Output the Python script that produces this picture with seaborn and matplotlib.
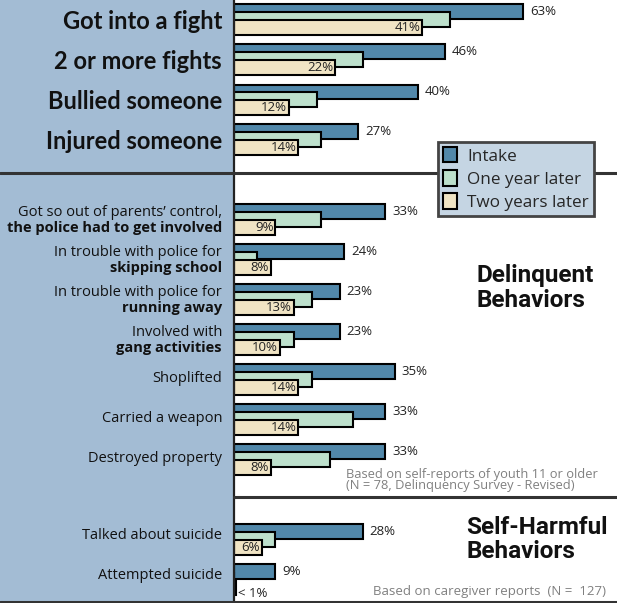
import matplotlib
matplotlib.use("Agg")
import matplotlib.pyplot as plt
import seaborn as sns
import pandas as pd
from matplotlib.patches import Rectangle, Patch
from matplotlib.lines import Line2D
from matplotlib.transforms import blended_transform_factory
from matplotlib import font_manager

# ---------------- data ----------------
series_names = ["Intake", "One year later", "Two years later"]

fight_labels = ["Got into a fight", "2 or more fights", "Bullied someone", "Injured someone"]
fight_intake = [63, 46, 40, 27]
fight_one = [47, 28, 18, 19]
fight_two = [41, 22, 12, 14]

delinq_line1 = ["Got so out of parents\u2019 control,", "In trouble with police for",
                "In trouble with police for", "Involved with",
                "Shoplifted", "Carried a weapon", "Destroyed property"]
delinq_line2 = ["the police had to get involved", "skipping school", "running away",
                "gang activities", "", "", ""]
delinq_intake = [33, 24, 23, 23, 35, 33, 33]
delinq_one = [19, 5, 17, 13, 17, 26, 21]
delinq_two = [9, 8, 13, 10, 14, 14, 8]

harm_labels = ["Talked about suicide", "Attempted suicide"]
harm_intake = [28, 9]
harm_one = [9, 0]
harm_two = [6, 0.5]
harm_two_text = ["6%", "< 1%"]

# ---------------- fonts ----------------
avail = {f.name for f in font_manager.fontManager.ttflist}
def pick(*names):
    for n in names:
        if n in avail:
            return n
    return "DejaVu Sans"
F_BIG = pick("Lato", "Open Sans", "DejaVu Sans")
F_TXT = pick("Open Sans", "Noto Sans", "DejaVu Sans")
F_NARROW = pick("Liberation Sans Narrow", "Roboto", "Open Sans")

C_INTAKE = "#5288aa"
C_ONE = "#bde0cc"
C_TWO = "#f0e4c4"
C_PANEL = "#a3bcd4"
C_LEG = "#c5d5e3"
C_DARK = "#333333"

# ---------------- layout (slots) ----------------
fight_slots = list(range(0, 4))
delinq_slots = list(range(5, 12))
harm_slots = [13, 14]
OFF = 0.1925

rows = []
for slots, vals_list, names in [
    (fight_slots, [fight_intake, fight_one, fight_two], fight_labels),
    (delinq_slots, [delinq_intake, delinq_one, delinq_two], delinq_line1),
    (harm_slots, [harm_intake, harm_one, harm_two], harm_labels),
]:
    for s, vals in zip(series_names, vals_list):
        for slot, v, n in zip(slots, vals, names):
            rows.append(dict(item=n, slot=slot, series=s, value=v))
df = pd.DataFrame(rows)

sns.set_theme(style="white")
plt.rcParams["font.family"] = [F_TXT, "DejaVu Sans"]

W, H = 617, 603
fig = plt.figure(figsize=(W / 100, H / 100), dpi=100)
fig.patch.set_facecolor("white")
AX_X0 = 234
ax = fig.add_axes([AX_X0 / W, 0, 1 - AX_X0 / W, 1])
ax.set_facecolor("white")

px_per_pct = 4.59
offsets = {"Intake": -OFF, "One year later": 0.0, "Two years later": OFF}
colors = {"Intake": C_INTAKE, "One year later": C_ONE, "Two years later": C_TWO}
for z, s in enumerate(series_names):
    sub = df[df.series == s].copy()
    sub["pos"] = sub["slot"] + offsets[s]
    sns.barplot(data=sub, x="value", y="pos", orient="y", native_scale=True,
                width=0.375, color=colors[s], saturation=1, edgecolor="black",
                linewidth=1.5, errorbar=None, ax=ax, zorder=2 + z)

ax.set_xlim(0, (W - AX_X0) / px_per_pct)
ax.set_ylim((H - 19.7) / 40, -19.7 / 40)
ax.set_xlabel("")
ax.set_ylabel("")
ax.set_xticks([])
ax.set_yticks([])
for sp in ax.spines.values():
    sp.set_visible(False)

# value labels
def intake_labels(slots, vals):
    for slot, v in zip(slots, vals):
        ax.text(v + 1.5, slot - OFF, f"{v}%", ha="left", va="center",
                fontsize=9.5, color="#222222", family=F_TXT, zorder=10)

def two_labels(slots, vals, texts=None):
    for i, (slot, v) in enumerate(zip(slots, vals)):
        t = texts[i] if texts else f"{v}%"
        if v < 1:
            ax.text(0.9, slot + OFF + 0.15, t, ha="left", va="center",
                    fontsize=9.5, color="#222222", family=F_TXT, zorder=10)
        else:
            ax.text(v - 0.4, slot + OFF, t, ha="right", va="center",
                    fontsize=9.5, color="#222222", family=F_TXT, zorder=10)

intake_labels(fight_slots, fight_intake)
intake_labels(delinq_slots, delinq_intake)
intake_labels(harm_slots, harm_intake)
two_labels(fight_slots, fight_two)
two_labels(delinq_slots, delinq_two)
two_labels(harm_slots, harm_two, harm_two_text)

# left panel
fig.add_artist(Rectangle((0, 0), AX_X0 / W, 1, transform=fig.transFigure,
                         facecolor=C_PANEL, edgecolor="none", zorder=-5))

trans = blended_transform_factory(fig.transFigure, ax.transData)
LX = 222 / W
for slot, lab in zip(fight_slots, fight_labels):
    ax.text(LX, slot + 0.05, lab, transform=trans, ha="right", va="center",
            fontsize=17, fontweight="bold", family=F_BIG, color="#111111", clip_on=False)
for slot, l1, l2 in zip(delinq_slots, delinq_line1, delinq_line2):
    if l2:
        ax.text(LX, slot - 0.17, l1, transform=trans, ha="right", va="center",
                fontsize=10.5, family=F_TXT, color="#111111", clip_on=False)
        ax.text(LX, slot + 0.21, l2, transform=trans, ha="right", va="center",
                fontsize=10.5, fontweight="bold", family=F_TXT, color="#111111", clip_on=False)
    else:
        ax.text(LX, slot - 0.04, l1, transform=trans, ha="right", va="center",
                fontsize=10.5, family=F_TXT, color="#111111", clip_on=False)
for slot, lab in zip(harm_slots, harm_labels):
    ax.text(LX, slot - 0.1, lab, transform=trans, ha="right", va="center",
            fontsize=10.5, family=F_TXT, color="#111111", clip_on=False)

# separators
fig.add_artist(Line2D([AX_X0 / W, AX_X0 / W], [0, 1], transform=fig.transFigure,
                      color="#222222", lw=1.6, zorder=6))
fig.add_artist(Line2D([0, 1], [1 - 173 / H, 1 - 173 / H], transform=fig.transFigure,
                      color=C_DARK, lw=2.2, zorder=6))
fig.add_artist(Line2D([AX_X0 / W, 1], [1 - 497 / H, 1 - 497 / H], transform=fig.transFigure,
                      color=C_DARK, lw=2.2, zorder=6))
fig.add_artist(Line2D([0, 1], [1 - 601.5 / H, 1 - 601.5 / H], transform=fig.transFigure,
                      color=C_DARK, lw=2.2, zorder=6))

# section titles
for x, y, t in [(477, 282, "Delinquent"), (477, 307, "Behaviors"),
                (466, 534, "Self-Harmful"), (466, 558, "Behaviors")]:
    fig.text(x / W, 1 - y / H, t, ha="left", va="baseline", fontsize=17.5,
             fontweight="bold", family=F_NARROW, color="#111111", zorder=7)

# footnotes
fig.text(346 / W, 1 - 489 / H,
         "Based on self-reports of youth 11 or older\n(N = 78, Delinquency Survey - Revised)",
         ha="left", va="baseline", fontsize=9.3, color="#808080", family=F_TXT,
         linespacing=0.8, zorder=7)
fig.text(373 / W, 1 - 595 / H, "Based on caregiver reports  (N =  127)", ha="left",
         va="baseline", fontsize=9.5, color="#808080", family=F_TXT, zorder=7)

# legend
handles = [Patch(facecolor=colors[s], edgecolor="black", linewidth=1.5, label=s)
           for s in series_names]
leg = fig.legend(handles=handles, loc="upper left",
                 bbox_to_anchor=(438 / W, 1 - 142 / H), frameon=True, fancybox=False,
                 facecolor=C_LEG, edgecolor="#444444", framealpha=1,
                 handlelength=0.8, handleheight=1.0, handletextpad=0.6,
                 borderpad=0.3, labelspacing=0.33, borderaxespad=0,
                 prop={"family": F_TXT, "size": 12.3})
leg.get_frame().set_linewidth(2)
leg.set_zorder(8)

fig.savefig("out.png", dpi=100)
